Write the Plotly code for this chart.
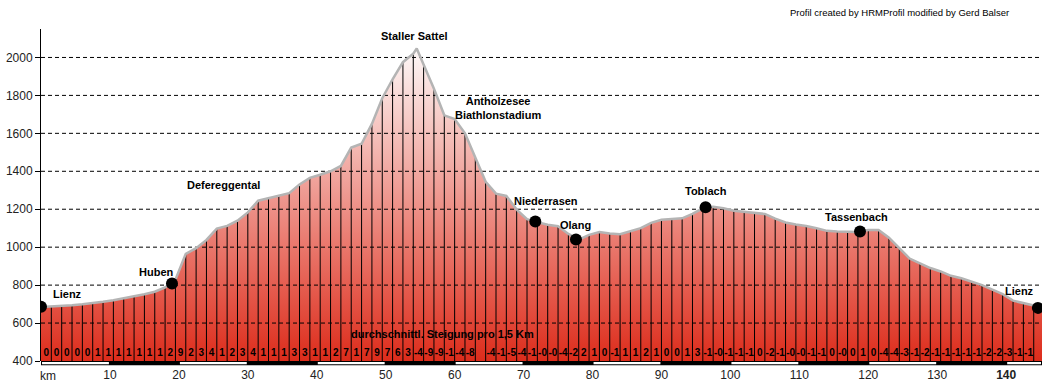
import plotly.graph_objects as go

# ---------------- data ----------------
# profile: distance (km) and elevation (m)
km = [0, 1.5, 3, 4.5, 6, 7.5, 9, 10.5, 12, 13.5, 15, 16.5, 18, 19.5, 21, 22.5, 24, 25.5, 27, 28.5,
      30, 31.5, 33, 34.5, 36, 37.5, 39, 40.5, 42, 43.5, 45, 46.5, 48, 49.5, 51, 52.5, 54, 54.5, 55.5,
      57, 58.5, 60, 61.5, 63, 64.5, 66, 67.5, 69, 70.5, 72, 73.5, 75, 76.5, 78, 79.5, 81, 82.5, 84,
      85.5, 87, 88.5, 90, 91.5, 93, 94.5, 96, 97.5, 99, 100.5, 102, 103.5, 105, 106.5, 108, 109.5,
      111, 112.5, 114, 115.5, 117, 118.5, 120, 121.5, 123, 124.5, 126, 127.5, 129, 130.5, 132,
      133.5, 135, 136.5, 138, 139.5, 141, 142.5, 144, 145.2]
elev = [685, 687, 690, 694, 699, 704, 712, 720, 730, 741, 752, 765, 788, 828, 965, 995, 1038, 1098,
        1112, 1140, 1183, 1245, 1258, 1268, 1285, 1330, 1365, 1382, 1400, 1428, 1525, 1545, 1650,
        1785, 1885, 1975, 2020, 2047, 1965, 1835, 1695, 1675, 1600, 1470, 1345, 1282, 1270, 1198,
        1148, 1132, 1118, 1110, 1070, 1040, 1065, 1080, 1072, 1068, 1082, 1100, 1128, 1144, 1149,
        1152, 1175, 1205, 1213, 1205, 1192, 1185, 1178, 1175, 1150, 1130, 1120, 1112, 1100, 1086,
        1083, 1080, 1080, 1090, 1091, 1050, 995, 940, 915, 890, 872, 849, 836, 820, 800, 776, 752,
        718, 705, 693, 676]

# average gradient (%) per 1.5 km segment, as printed at the bottom
grad_labels = ["0", "0", "0", "0", "0", "1", "1", "1", "1", "1", "1", "1", "2", "9", "2", "3", "4",
               "1", "2", "3", "4", "1", "1", "1", "3", "3", "1", "1", "2", "7", "1", "7", "9", "7",
               "6", "3", "-4", "-9", "-9", "-1", "-4", "-8", "", "-4", "-1", "-5", "-4", "-1", "-0",
               "-0", "-4", "-2", "2", "1", "0", "-1", "1", "1", "2", "1", "0", "0", "1", "3", "-1",
               "-0", "-1", "-1", "-1", "0", "-2", "-1", "-0", "-0", "-1", "-1", "0", "-0", "0", "1",
               "0", "-4", "-4", "-3", "-1", "-2", "-1", "-1", "-1", "-1", "-1", "-2", "-2", "-3",
               "-1", "-1", ""]
segment_km = 1.5

# named places
place_names = ["Lienz", "Huben", "Niederrasen", "Olang", "Toblach", "Tassenbach", "Lienz"]
place_km = [0, 19.0, 71.7, 77.6, 96.4, 118.8, 144.6]
place_elev = [686, 808, 1135, 1040, 1210, 1082, 680]

# label texts and their positions (km, m)
label_texts = ["Lienz", "Huben", "Defereggental", "Staller Sattel", "Antholzesee<br>Biathlonstadium",
               "Niederrasen", "Olang", "Toblach", "Tassenbach", "Lienz"]
label_km = [3.8, 16.8, 26.5, 54.2, 66.3, 73.2, 77.5, 96.5, 118.3, 142.0]
label_elev = [754, 870, 1328, 2113, 1733, 1244, 1117, 1296, 1160, 770]

y_ticks = [400, 600, 800, 1000, 1200, 1400, 1600, 1800, 2000]
x_ticks = [10, 20, 30, 40, 50, 60, 70, 80, 90, 100, 110, 120, 130, 140]
x_ticktext = ["10", "20", "30", "40", "50", "60", "70", "80", "90", "100", "110", "120", "130",
              "<b>140</b>"]

Y_MIN, Y_MAX = 400, 2150
X_MAX = km[-1]
FONT = "Liberation Sans, Arial, sans-serif"

fig = go.Figure()

# gradient filled profile
fig.add_trace(go.Scatter(
    x=km, y=elev, mode="lines", line=dict(width=0, color="rgba(0,0,0,0)"),
    fill="tozeroy",
    fillgradient=dict(type="vertical", start=Y_MIN, stop=2100,
                      colorscale=[[0, "#dd2c1b"], [1, "#ffffff"]]),
    hoverinfo="skip", showlegend=False))

# dashed grid lines above fill
gx, gy = [], []
for t in y_ticks[1:]:
    gx += [0, X_MAX, None]
    gy += [t, t, None]
fig.add_trace(go.Scatter(x=gx, y=gy, mode="lines",
                         line=dict(color="black", width=1, dash="4px,3px"),
                         hoverinfo="skip", showlegend=False))

# vertical segment lines every 1.5 km
vx, vy = [], []
for k, e in zip(km, elev):
    if k > 0 and abs(k / segment_km - round(k / segment_km)) < 1e-9:
        vx += [k, k, None]
        vy += [Y_MIN, e, None]
fig.add_trace(go.Scatter(x=vx, y=vy, mode="lines", line=dict(color="black", width=1),
                         hoverinfo="skip", showlegend=False))

# gray outline
fig.add_trace(go.Scatter(x=km, y=elev, mode="lines", line=dict(color="#b4b4b4", width=2.5),
                         hoverinfo="skip", showlegend=False))

# place markers
fig.add_trace(go.Scatter(x=place_km, y=place_elev, mode="markers",
                         marker=dict(color="black", size=12), text=place_names,
                         hoverinfo="text", showlegend=False))

# gradient numbers
seg_x = [segment_km * i + segment_km / 2 for i in range(len(grad_labels))]
fig.add_trace(go.Scatter(x=seg_x, y=[438] * len(seg_x), mode="text", text=grad_labels,
                         textposition="middle center",
                         textfont=dict(family=FONT, size=10, color="black", weight="bold"),
                         hoverinfo="skip", showlegend=False))

# place labels
for t, xk, ye in zip(label_texts, label_km, label_elev):
    fig.add_annotation(x=xk, y=ye, text=t, showarrow=False, xanchor="center", yanchor="middle",
                       font=dict(family=FONT, size=11, color="black", weight="bold"))

fig.add_annotation(x=58.3, y=544, text="durchschnittl. Steigung pro 1,5 Km", showarrow=False,
                   xanchor="center", yanchor="middle",
                   font=dict(family=FONT, size=11, color="black", weight="bold"))

fig.add_annotation(x=0, xref="x", y=-0.045, yref="paper", text="km", showarrow=False,
                   xanchor="left", yanchor="middle", xshift=-3,
                   font=dict(family=FONT, size=12, color="#222"))

fig.add_annotation(x=0.858, xref="paper", y=1.051, yref="paper",
                   text="Profil created by HRMProfil modified by Gerd Balser", showarrow=False,
                   xanchor="center", yanchor="middle",
                   font=dict(family=FONT, size=9.5, color="black"))

# black / white km bar under the plot
fig.add_shape(type="rect", xref="x", yref="paper", x0=0, x1=X_MAX, y0=-0.013, y1=0,
              line=dict(width=0), fillcolor="black", layer="above")
for s in range(0, 150, 20):
    fig.add_shape(type="rect", xref="x", yref="paper", x0=s + 0.15, x1=min(s + 10, X_MAX) - 0.15,
                  y0=-0.010, y1=-0.003, line=dict(width=0), fillcolor="white", layer="above")

fig.update_layout(
    width=1046, height=382,
    margin=dict(l=41, r=4, t=29, b=21, autoexpand=False),
    paper_bgcolor="white", plot_bgcolor="white",
    font=dict(family=FONT),
    xaxis=dict(range=[0, X_MAX], tickvals=x_ticks, ticktext=x_ticktext, showgrid=False,
               zeroline=False, showline=False, ticks="outside", ticklen=3, automargin=False,
               tickcolor="rgba(0,0,0,0)", tickfont=dict(family=FONT, size=12, color="#222")),
    yaxis=dict(range=[Y_MIN, Y_MAX], tickvals=y_ticks, showgrid=False, zeroline=False,
               automargin=False,
               showline=True, linecolor="black", linewidth=1, ticks="outside", ticklen=5,
               tickcolor="black", tickfont=dict(family=FONT, size=12, color="#222")),
)

fig.write_html(
    "out.html",
    config={"displayModeBar": False},
    post_script="document.body.style.margin='0px';document.body.style.padding='0px';"
                "document.body.style.overflow='hidden';",
)
